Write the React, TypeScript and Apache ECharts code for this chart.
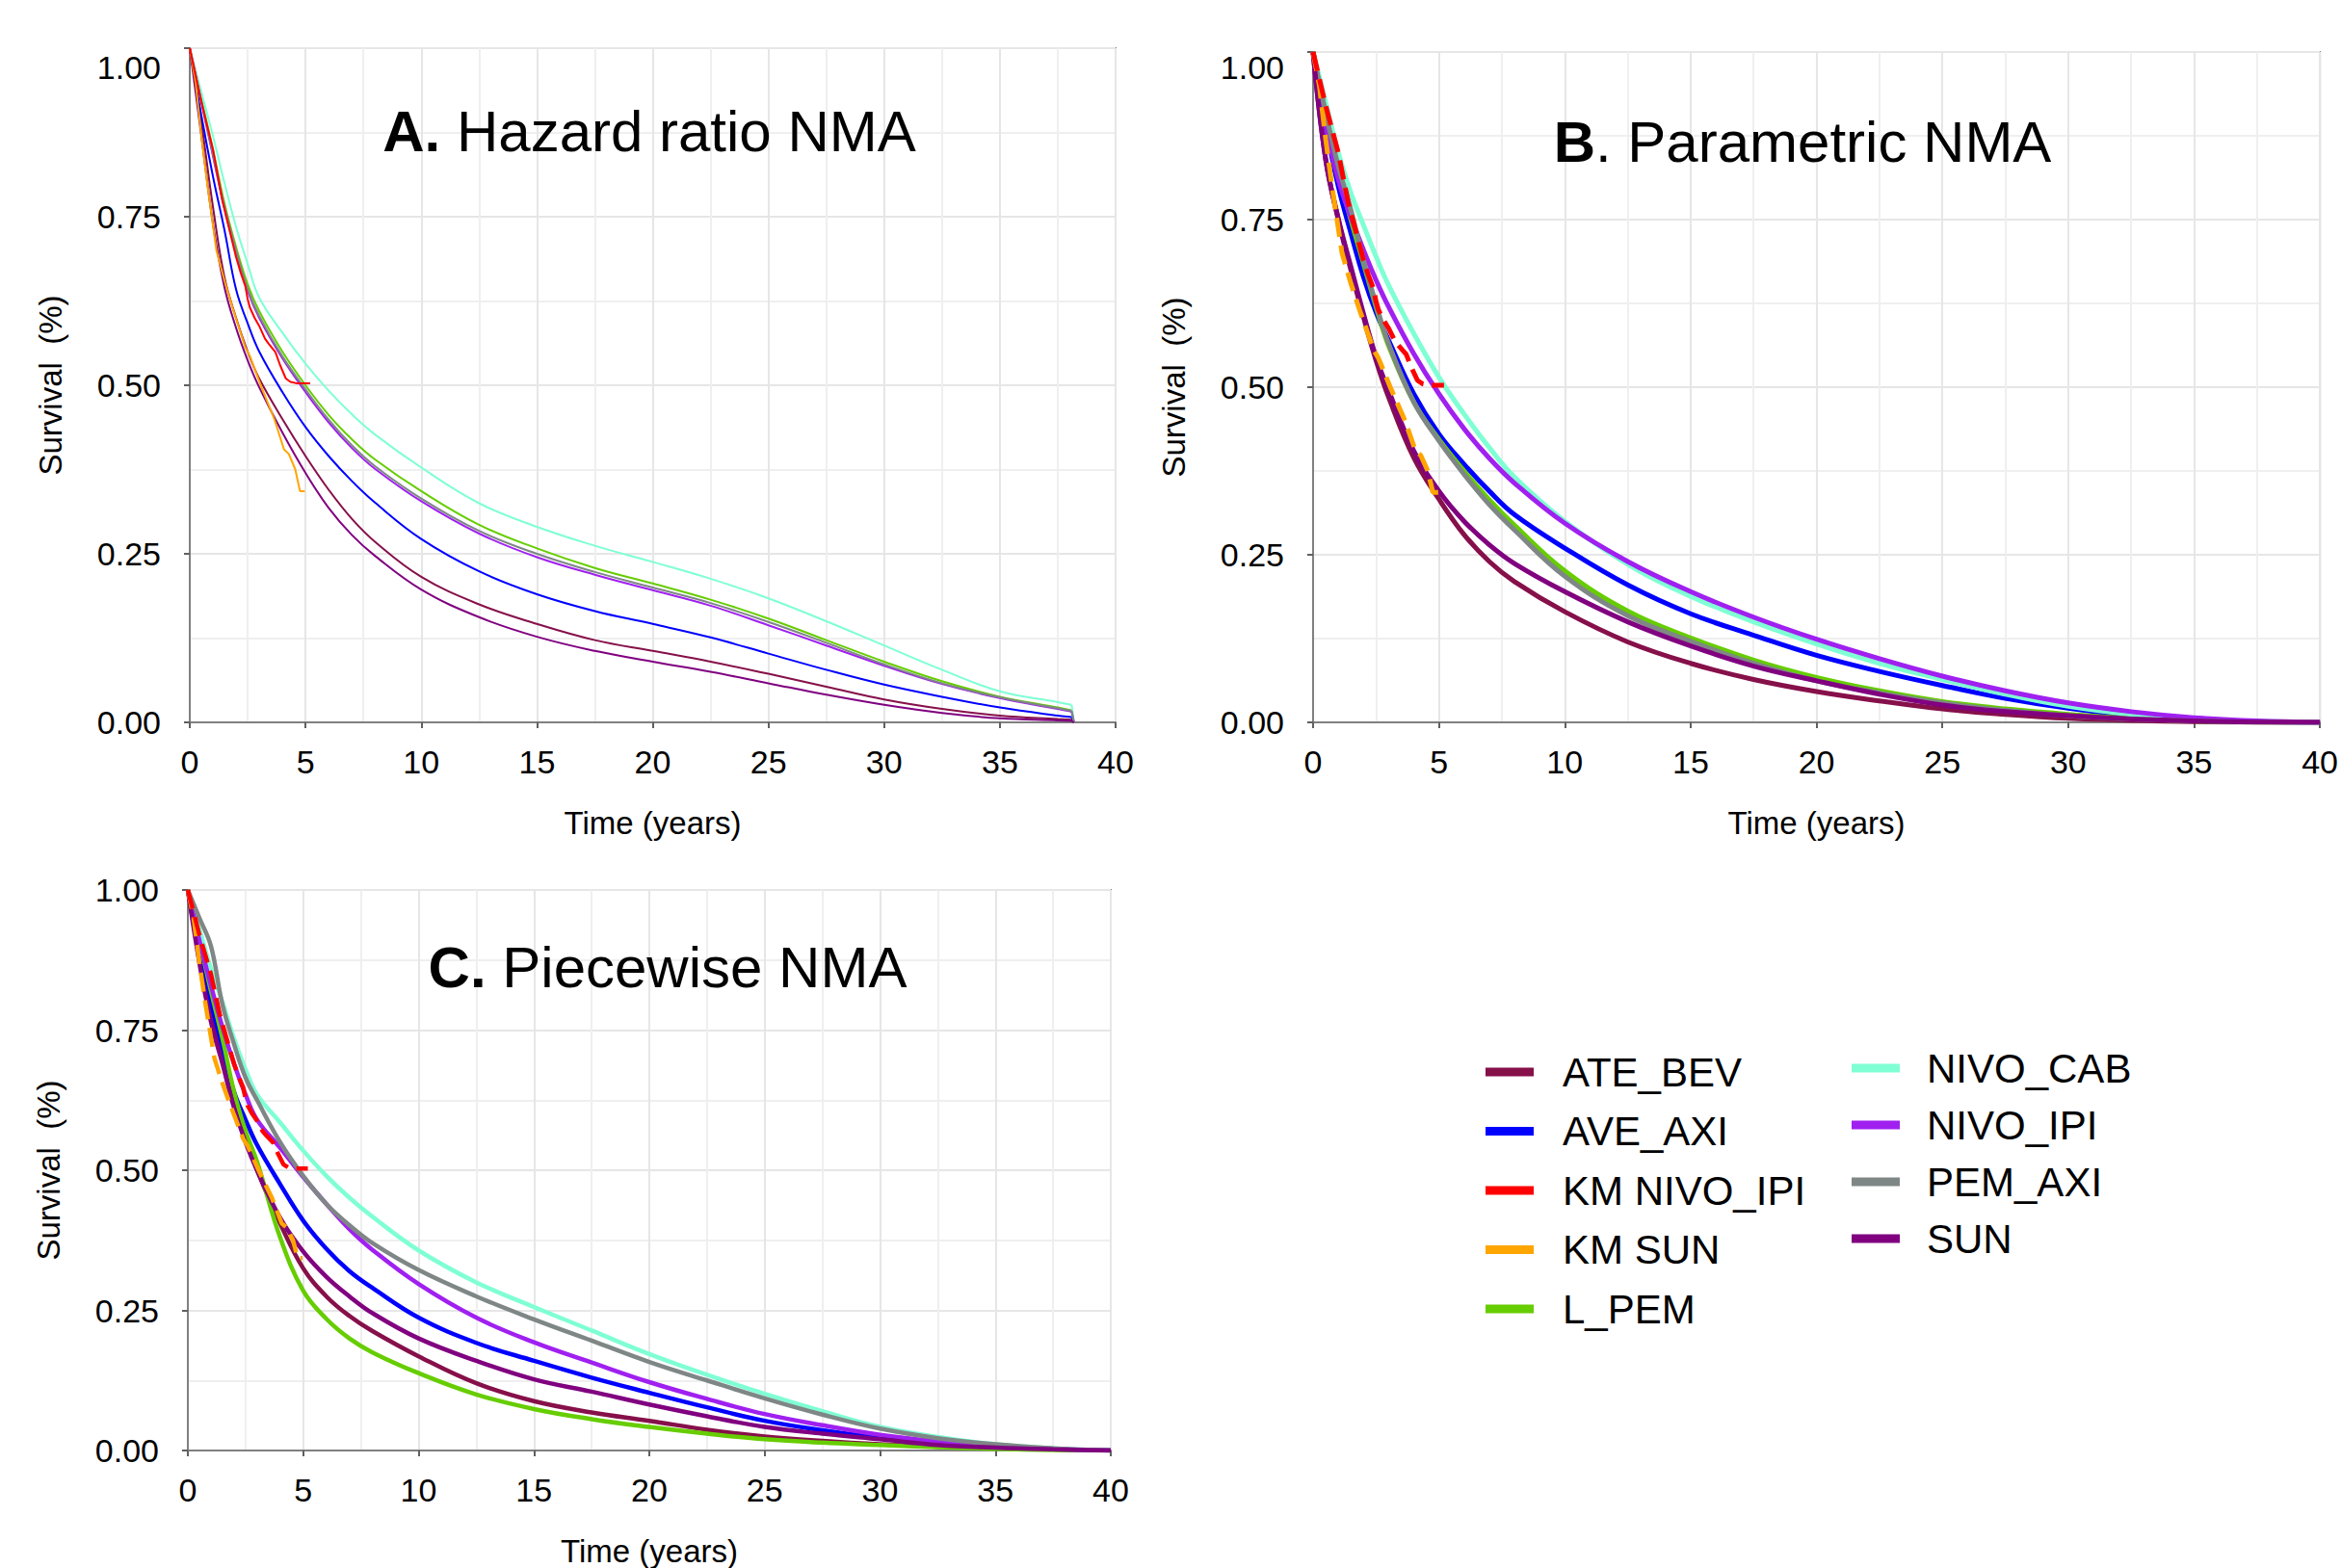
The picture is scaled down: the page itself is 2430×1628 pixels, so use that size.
import React, { useEffect, useRef } from "react";
import * as echarts from "echarts";

const FONT = '"Liberation Sans", Arial, Helvetica, sans-serif';

// ---------- series names & colours ----------
const LEGEND_COL1 = ["ATE_BEV", "AVE_AXI", "KM NIVO_IPI", "KM SUN", "L_PEM"];
const LEGEND_COL2 = ["NIVO_CAB", "NIVO_IPI", "PEM_AXI", "SUN"];
const COLORS: Record<string, string> = {
  ATE_BEV: "#86104a",
  AVE_AXI: "#0000ff",
  "KM NIVO_IPI": "#ff0000",
  "KM SUN": "#ffa500",
  L_PEM: "#66cd00",
  NIVO_CAB: "#7fffd4",
  NIVO_IPI: "#a020f0",
  PEM_AXI: "#7f8786",
  SUN: "#800080",
};

// ---------- axis ticks ----------
const X_TICKS = [0, 5, 10, 15, 20, 25, 30, 35, 40];
const Y_TICKS = [0, 0.25, 0.5, 0.75, 1];

// ---------- time grids (years) ----------
const TIME_A = [0, 0.5, 1, 1.5, 2, 2.5, 3, 4, 5, 6, 7, 8, 10, 12.5, 15, 17.5, 20, 22.5, 25, 27.5, 30, 32.5, 35, 37.5, 38.1, 38.2];
const TIME_BC = [0, 0.5, 1, 1.5, 2, 2.5, 3, 4, 5, 6, 7, 8, 10, 12.5, 15, 17.5, 20, 22.5, 25, 27.5, 30, 32.5, 35, 37.5, 40];

// ---------- A. Hazard ratio NMA ----------
const A_ATE_BEV = [1, 0.89, 0.765, 0.66, 0.6, 0.55, 0.51, 0.45, 0.395, 0.345, 0.302, 0.268, 0.216, 0.175, 0.146, 0.122, 0.106, 0.09, 0.072, 0.053, 0.034, 0.02, 0.01, 0.005, 0.004, 0];
const A_AVE_AXI = [1, 0.9, 0.81, 0.73, 0.642, 0.592, 0.55, 0.49, 0.438, 0.395, 0.358, 0.326, 0.272, 0.224, 0.19, 0.165, 0.146, 0.126, 0.102, 0.078, 0.056, 0.038, 0.022, 0.01, 0.008, 0];
const A_L_PEM = [1, 0.925, 0.85, 0.77, 0.705, 0.65, 0.61, 0.55, 0.5, 0.456, 0.42, 0.39, 0.343, 0.293, 0.258, 0.229, 0.206, 0.182, 0.154, 0.122, 0.09, 0.061, 0.038, 0.022, 0.018, 0];
const A_NIVO_CAB = [1, 0.935, 0.87, 0.8, 0.735, 0.68, 0.63, 0.578, 0.532, 0.492, 0.457, 0.427, 0.378, 0.325, 0.29, 0.262, 0.238, 0.213, 0.184, 0.15, 0.114, 0.078, 0.046, 0.03, 0.026, 0];
const A_NIVO_IPI = [1, 0.92, 0.84, 0.762, 0.697, 0.64, 0.6, 0.54, 0.49, 0.445, 0.407, 0.376, 0.328, 0.28, 0.245, 0.219, 0.196, 0.173, 0.144, 0.114, 0.084, 0.057, 0.036, 0.02, 0.016, 0];
const A_PEM_AXI = [1, 0.922, 0.843, 0.765, 0.7, 0.643, 0.603, 0.543, 0.494, 0.449, 0.411, 0.38, 0.332, 0.284, 0.25, 0.223, 0.2, 0.177, 0.149, 0.118, 0.086, 0.058, 0.037, 0.021, 0.017, 0];
const A_SUN = [1, 0.87, 0.74, 0.645, 0.585, 0.537, 0.497, 0.43, 0.37, 0.318, 0.278, 0.247, 0.197, 0.156, 0.127, 0.106, 0.09, 0.075, 0.058, 0.041, 0.026, 0.014, 0.006, 0.003, 0.002, 0];

// ---------- B. Parametric NMA ----------
const B_ATE_BEV = [1, 0.84, 0.75, 0.675, 0.605, 0.54, 0.485, 0.395, 0.333, 0.28, 0.24, 0.21, 0.165, 0.12, 0.088, 0.064, 0.046, 0.032, 0.02, 0.012, 0.006, 0.003, 0.001, 0.0003, 0];
const B_AVE_AXI = [1, 0.89, 0.8, 0.73, 0.665, 0.612, 0.57, 0.49, 0.43, 0.385, 0.345, 0.31, 0.26, 0.205, 0.162, 0.13, 0.1, 0.076, 0.055, 0.036, 0.021, 0.01, 0.004, 0.001, 0];
const B_L_PEM = [1, 0.9, 0.82, 0.75, 0.685, 0.62, 0.562, 0.478, 0.422, 0.375, 0.332, 0.294, 0.226, 0.166, 0.126, 0.093, 0.067, 0.047, 0.031, 0.02, 0.012, 0.006, 0.002, 0.0005, 0];
const B_NIVO_CAB = [1, 0.925, 0.85, 0.79, 0.742, 0.695, 0.652, 0.58, 0.515, 0.46, 0.41, 0.366, 0.3, 0.236, 0.188, 0.15, 0.117, 0.088, 0.064, 0.042, 0.024, 0.012, 0.005, 0.0015, 0];
const B_NIVO_IPI = [1, 0.89, 0.81, 0.754, 0.705, 0.66, 0.62, 0.55, 0.49, 0.438, 0.394, 0.357, 0.297, 0.24, 0.195, 0.157, 0.124, 0.095, 0.069, 0.047, 0.029, 0.016, 0.007, 0.002, 0];
const B_PEM_AXI = [1, 0.91, 0.83, 0.765, 0.69, 0.624, 0.565, 0.478, 0.42, 0.37, 0.325, 0.287, 0.218, 0.159, 0.121, 0.088, 0.062, 0.044, 0.029, 0.018, 0.01, 0.005, 0.002, 0.0005, 0];
const B_SUN = [1, 0.84, 0.752, 0.68, 0.61, 0.545, 0.495, 0.405, 0.345, 0.3, 0.265, 0.237, 0.195, 0.15, 0.114, 0.084, 0.062, 0.042, 0.026, 0.016, 0.01, 0.005, 0.002, 0.0005, 0];

// ---------- C. Piecewise NMA ----------
const C_ATE_BEV = [1, 0.88, 0.775, 0.695, 0.62, 0.555, 0.5, 0.405, 0.325, 0.275, 0.24, 0.213, 0.168, 0.12, 0.088, 0.068, 0.053, 0.037, 0.025, 0.017, 0.011, 0.007, 0.005, 0.002, 0];
const C_AVE_AXI = [1, 0.9, 0.8, 0.72, 0.64, 0.59, 0.545, 0.475, 0.41, 0.36, 0.32, 0.29, 0.237, 0.192, 0.16, 0.13, 0.103, 0.077, 0.053, 0.036, 0.0225, 0.012, 0.005, 0.002, 0];
const C_L_PEM = [1, 0.91, 0.82, 0.735, 0.64, 0.57, 0.515, 0.38, 0.285, 0.235, 0.2, 0.175, 0.138, 0.1, 0.074, 0.056, 0.042, 0.03, 0.02, 0.014, 0.01, 0.006, 0.003, 0.001, 0];
const C_NIVO_CAB = [1, 0.93, 0.86, 0.8, 0.735, 0.68, 0.635, 0.585, 0.535, 0.49, 0.451, 0.417, 0.357, 0.3, 0.256, 0.214, 0.172, 0.135, 0.101, 0.07, 0.042, 0.024, 0.011, 0.004, 0];
const C_NIVO_IPI = [1, 0.91, 0.83, 0.755, 0.69, 0.635, 0.59, 0.54, 0.488, 0.44, 0.395, 0.358, 0.297, 0.237, 0.193, 0.157, 0.122, 0.092, 0.065, 0.045, 0.028, 0.016, 0.008, 0.003, 0];
const C_PEM_AXI = [1, 0.95, 0.9, 0.795, 0.725, 0.665, 0.625, 0.55, 0.49, 0.44, 0.402, 0.37, 0.322, 0.275, 0.234, 0.196, 0.158, 0.125, 0.093, 0.064, 0.039, 0.022, 0.011, 0.004, 0];
const C_SUN = [1, 0.87, 0.765, 0.69, 0.612, 0.55, 0.5, 0.415, 0.355, 0.31, 0.275, 0.245, 0.2, 0.16, 0.127, 0.105, 0.082, 0.061, 0.042, 0.03, 0.02, 0.01, 0.005, 0.002, 0];

// ---------- Kaplan-Meier curves (same observed data in every panel) ----------
const KM_NIVO_IPI_T = [0, 0.5, 1, 1.4, 2, 2.2, 2.4, 2.5, 2.6, 2.8, 3, 3.25, 3.4, 3.7, 3.9, 4.15, 4.35, 4.6, 5.2];
const KM_NIVO_IPI_S = [1, 0.92, 0.85, 0.775, 0.69, 0.667, 0.647, 0.628, 0.615, 0.6, 0.588, 0.569, 0.562, 0.549, 0.53, 0.51, 0.505, 0.503, 0.503];
const KM_SUN_T = [0, 0.25, 0.5, 0.75, 0.95, 1.15, 1.5, 1.85, 2.4, 2.6, 3.1, 3.65, 4.07, 4.28, 4.56, 4.76, 4.97];
const KM_SUN_S = [1, 0.95, 0.87, 0.8, 0.75, 0.7, 0.655, 0.615, 0.556, 0.543, 0.497, 0.45, 0.405, 0.398, 0.375, 0.343, 0.343];

const PANELS = [
  {
    time: TIME_A,
    endDrop: true,
    curves: { ATE_BEV: A_ATE_BEV, AVE_AXI: A_AVE_AXI, L_PEM: A_L_PEM, NIVO_CAB: A_NIVO_CAB, NIVO_IPI: A_NIVO_IPI, PEM_AXI: A_PEM_AXI, SUN: A_SUN } as Record<string, number[]>,
  },
  {
    time: TIME_BC,
    endDrop: false,
    curves: { ATE_BEV: B_ATE_BEV, AVE_AXI: B_AVE_AXI, L_PEM: B_L_PEM, NIVO_CAB: B_NIVO_CAB, NIVO_IPI: B_NIVO_IPI, PEM_AXI: B_PEM_AXI, SUN: B_SUN } as Record<string, number[]>,
  },
  {
    time: TIME_BC,
    endDrop: false,
    curves: { ATE_BEV: C_ATE_BEV, AVE_AXI: C_AVE_AXI, L_PEM: C_L_PEM, NIVO_CAB: C_NIVO_CAB, NIVO_IPI: C_NIVO_IPI, PEM_AXI: C_PEM_AXI, SUN: C_SUN } as Record<string, number[]>,
  },
];

const DRAW_ORDER = ["ATE_BEV", "AVE_AXI", "L_PEM", "NIVO_CAB", "NIVO_IPI", "PEM_AXI", "SUN"];

const zip = (t: number[], s: number[]) => t.map((v, i) => [v, s[i]]);

function buildOption() {
  const grids = [
    { left: 197, top: 50, width: 961, height: 700 },
    { left: 1363, top: 54, width: 1046, height: 696 },
    { left: 195, top: 924, width: 958, height: 591 },
  ].map((g) => ({ ...g, show: true, borderColor: "#808080", borderWidth: 2, backgroundColor: "transparent" }));

  const lineWidths = [2, 5, 4.5];
  const topLabelShift = [40, 32, 0];

  const xAxes = grids.map((_, i) => ({
    type: "value",
    gridIndex: i,
    min: X_TICKS[0],
    max: X_TICKS[X_TICKS.length - 1],
    interval: 5,
    name: "Time (years)",
    nameLocation: "middle",
    nameGap: 88,
    nameTextStyle: { fontSize: 33, fontFamily: FONT, color: "#000" },
    axisLine: { show: true, onZero: false, lineStyle: { color: "#808080", width: 2 } },
    axisTick: { show: true, length: 6, lineStyle: { color: "#606060", width: 2 } },
    axisLabel: { fontSize: 34, fontFamily: FONT, color: "#000", margin: 24 },
    splitLine: { show: true, lineStyle: { color: "#e6e6e6", width: 2 } },
    minorTick: { show: false, splitNumber: 2 },
    minorSplitLine: { show: true, lineStyle: { color: "#efefef", width: 2 } },
  }));

  const yAxes = grids.map((_, i) => ({
    type: "value",
    gridIndex: i,
    min: Y_TICKS[0],
    max: Y_TICKS[Y_TICKS.length - 1],
    interval: 0.25,
    name: "Survival  (%)",
    nameLocation: "middle",
    nameGap: 128,
    nameRotate: 90,
    nameTextStyle: { fontSize: 33, fontFamily: FONT, color: "#000" },
    axisLine: { show: true, onZero: false, lineStyle: { color: "#808080", width: 2 } },
    axisTick: { show: true, length: 6, lineStyle: { color: "#606060", width: 2 } },
    axisLabel: {
      fontSize: 34,
      fontFamily: FONT,
      color: "#000",
      margin: 30,
      formatter: (v: number) => (v === 1 && topLabelShift[i] > 0 ? "{t|1.00}" : v.toFixed(2)),
      rich: { t: { fontSize: 34, fontFamily: FONT, color: "#000", padding: [topLabelShift[i], 0, 0, 0] } },
    },
    splitLine: { show: true, lineStyle: { color: "#e6e6e6", width: 2 } },
    minorTick: { show: false, splitNumber: 2 },
    minorSplitLine: { show: true, lineStyle: { color: "#efefef", width: 2 } },
  }));

  const series: any[] = [];
  PANELS.forEach((p, i) => {
    const w = lineWidths[i];
    DRAW_ORDER.forEach((name) => {
      const pts = zip(p.time, p.curves[name]);
      const smoothPart = p.endDrop ? pts.slice(0, pts.length - 1) : pts;
      series.push({
        type: "line",
        name,
        xAxisIndex: i,
        yAxisIndex: i,
        data: smoothPart,
        showSymbol: false,
        smooth: 0.4,
        lineStyle: { color: COLORS[name], width: w },
        itemStyle: { color: COLORS[name] },
        z: 2,
      });
      if (p.endDrop) {
        series.push({
          type: "line",
          name,
          xAxisIndex: i,
          yAxisIndex: i,
          data: pts.slice(pts.length - 2),
          showSymbol: false,
          smooth: false,
          lineStyle: { color: COLORS[name], width: w },
          itemStyle: { color: COLORS[name] },
          z: 2,
        });
      }
    });
    const kmDash = i === 0 ? "solid" : [20, 9];
    [
      { name: "KM SUN", t: KM_SUN_T, s: KM_SUN_S },
      { name: "KM NIVO_IPI", t: KM_NIVO_IPI_T, s: KM_NIVO_IPI_S },
    ].forEach((km) => {
      series.push({
        type: "line",
        name: km.name,
        xAxisIndex: i,
        yAxisIndex: i,
        data: zip(km.t, km.s),
        showSymbol: false,
        smooth: false,
        lineStyle: { color: COLORS[km.name], width: w, type: kmDash },
        itemStyle: { color: COLORS[km.name] },
        z: 3,
      });
    });
  });

  const legendCommon = {
    orient: "vertical",
    itemWidth: 50,
    itemHeight: 9,
    icon: "rect",
    padding: 0,
    selectedMode: false,
    itemStyle: { borderWidth: 0 },
    lineStyle: { type: "solid", width: 0 },
  };

  const titleStyle = (text: string) => ({
    text,
    fontSize: 60,
    fontFamily: FONT,
    fill: "#000",
    align: "center",
    verticalAlign: "middle",
    rich: { b: { fontSize: 60, fontFamily: FONT, fontWeight: "bold", fill: "#000" } },
  });

  return {
    animation: false,
    backgroundColor: "#ffffff",
    grid: grids,
    xAxis: xAxes,
    yAxis: yAxes,
    series,
    legend: [
      {
        ...legendCommon,
        left: 1542,
        top: 1092,
        itemGap: 19.5,
        data: LEGEND_COL1,
        textStyle: { fontSize: 42, fontFamily: FONT, color: "#000", padding: [0, 0, 0, 25] },
      },
      {
        ...legendCommon,
        left: 1922,
        top: 1088,
        itemGap: 17,
        data: LEGEND_COL2,
        textStyle: { fontSize: 42, fontFamily: FONT, color: "#000", padding: [0, 0, 0, 23] },
      },
    ],
    graphic: [
      { type: "text", x: 674, y: 136, z: 100, style: titleStyle("{b|A.} Hazard ratio NMA") },
      { type: "text", x: 1871, y: 147, z: 100, style: titleStyle("{b|B}. Parametric NMA") },
      { type: "text", x: 693, y: 1004, z: 100, style: titleStyle("{b|C.} Piecewise NMA") },
    ],
  };
}

export default function App() {
  const ref = useRef<HTMLDivElement>(null);
  useEffect(() => {
    if (!ref.current) return;
    const chart = echarts.init(ref.current, undefined, { renderer: "svg" });
    chart.setOption(buildOption() as any);
    return () => chart.dispose();
  }, []);
  return (
    <div
      ref={ref}
      style={{ position: "fixed", left: 0, top: 0, width: 2430, height: 1628, background: "#fff" }}
    />
  );
}
